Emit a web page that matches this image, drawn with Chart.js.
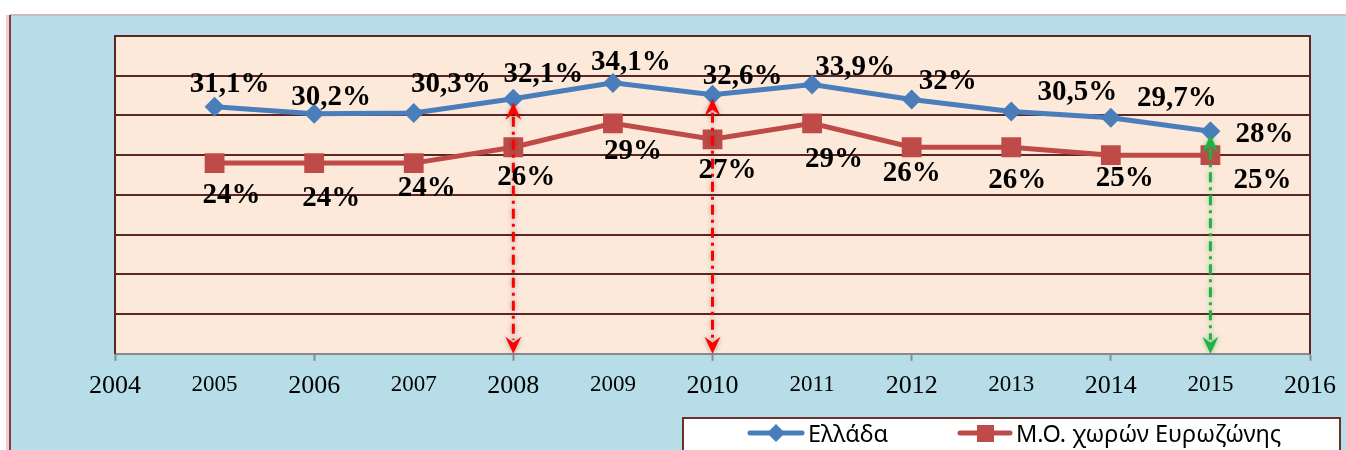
<!DOCTYPE html>
<html>
<head>
<meta charset="utf-8">
<script src="https://cdn.jsdelivr.net/npm/chart.js@4.4.1/dist/chart.umd.min.js"></script>
<style>
  html,body{margin:0;padding:0;background:#fff;}
  canvas{display:block;}
</style>
</head>
<body>
<canvas id="chart" width="1346" height="450"></canvas>
<script>
const YEARS = [2005,2006,2007,2008,2009,2010,2011,2012,2013,2014,2015];
const GREECE = [31.1,30.2,30.3,32.1,34.1,32.6,33.9,32,30.5,29.7,28];
const EUROZONE = [24,24,24,26,29,27,29,26,26,25,25];
const SERIES_NAMES = ['Ελλάδα','Μ.Ο. χωρών Ευρωζώνης'];
const ARROWS_RED = [2008,2010];
const ARROWS_GREEN = [2015];

// where each value label sits relative to its point (px)
const GREECE_LABEL_SHIFT = [[15,-22],[17,-16],[37,-29],[30,-24],[18,-20],[30,-18],[43,-17],[36,-18],[66,-19],[66,-19],[54,3]];
const EURO_LABEL_SHIFT = [[17,32],[17,35],[13,25],[13,30],[20,28],[15,31],[22,36],[0,26],[6,33],[14,23],[52,25]];

const SERIF = "'Liberation Serif','Times New Roman',serif";
const BLUE = '#4a7ebb', RED = '#be4b48';

const fmt = v => String(v).replace('.', ',') + '%';

const backdrop = {
  id:'backdrop',
  beforeDraw(chart){
    const {ctx, chartArea:a, width, height} = chart;
    ctx.save();
    ctx.fillStyle = '#fff'; ctx.fillRect(0,0,width,height);
    ctx.fillStyle = '#b7dde8'; ctx.fillRect(10,15,width-10,height-15);
    ctx.fillStyle = '#cbbcc4'; ctx.fillRect(10,14,width-10,2);
    ctx.fillStyle = 'rgba(190,120,120,0.35)'; ctx.fillRect(6,15,4,height-15);
    ctx.fillStyle = '#8c3b38'; ctx.fillRect(9,15,2,height-15);
    ctx.fillStyle = '#fde9da';
    ctx.fillRect(a.left,a.top,a.right-a.left,a.bottom-a.top);
    ctx.restore();
  },
  afterDraw(chart){
    const {ctx, chartArea:a} = chart;
    ctx.save();
    ctx.strokeStyle = '#5b2623'; ctx.lineWidth = 2;
    ctx.beginPath();
    ctx.moveTo(a.left, a.bottom); ctx.lineTo(a.left, a.top);
    ctx.lineTo(a.right, a.top); ctx.lineTo(a.right, a.bottom);
    ctx.stroke();

    // legend box
    ctx.fillStyle = '#fff'; ctx.fillRect(683,418,657,40);
    ctx.strokeStyle = '#6b2f2c'; ctx.lineWidth = 2; ctx.strokeRect(683,418,657,40);
    const ly = 433;
    ctx.lineWidth = 5; ctx.lineCap = 'round';
    ctx.strokeStyle = BLUE;
    ctx.beginPath(); ctx.moveTo(750,ly); ctx.lineTo(802,ly); ctx.stroke();
    ctx.fillStyle = BLUE;
    ctx.beginPath(); ctx.moveTo(776,ly-9); ctx.lineTo(785,ly); ctx.lineTo(776,ly+9); ctx.lineTo(767,ly); ctx.closePath(); ctx.fill();
    ctx.strokeStyle = RED;
    ctx.beginPath(); ctx.moveTo(960,ly); ctx.lineTo(1010,ly); ctx.stroke();
    ctx.fillStyle = RED; ctx.fillRect(977,ly-8,17,17);
    ctx.fillStyle = '#000'; ctx.font = "23.5px 'Noto Sans', sans-serif";
    ctx.textBaseline = 'alphabetic'; ctx.textAlign = 'left';
    ctx.fillText(SERIES_NAMES[0], 808, ly+9);
    ctx.fillText(SERIES_NAMES[1], 1016, ly+9);
    ctx.restore();
  }
};

function head(ctx, x, tipY, dir){
  ctx.beginPath();
  ctx.moveTo(x, tipY);
  ctx.lineTo(x-8, tipY - dir*17);
  ctx.lineTo(x, tipY - dir*11);
  ctx.lineTo(x+8, tipY - dir*17);
  ctx.closePath(); ctx.fill();
}

function arrow(chart, year, color, glow){
  const {ctx} = chart;
  const xs = chart.scales.x, ys = chart.scales.y;
  const x = xs.getPixelForValue(year);
  const top = ys.getPixelForValue(GREECE[YEARS.indexOf(year)]) + 4;
  const bottom = ys.getPixelForValue(0);
  ctx.save();
  ctx.shadowColor = glow; ctx.shadowBlur = 5;
  ctx.strokeStyle = color; ctx.fillStyle = color; ctx.lineWidth = 3;
  ctx.setLineDash([10,5,3,5]);
  ctx.beginPath(); ctx.moveTo(x, top+14); ctx.lineTo(x, bottom-14); ctx.stroke();
  ctx.setLineDash([]);
  head(ctx, x, top, -1);
  head(ctx, x, bottom, 1);
  ctx.restore();
}

const annotations = {
  id:'annotations',
  afterDatasetsDraw(chart){
    ARROWS_RED.forEach(y=>arrow(chart, y, '#f00', 'rgba(0,0,0,0.35)'));
    ARROWS_GREEN.forEach(y=>arrow(chart, y, '#1fb24a', 'rgba(30,180,70,0.6)'));

    const {ctx} = chart;
    ctx.save();
    ctx.fillStyle = '#000';
    ctx.font = "bold 29px " + SERIF;
    ctx.textAlign = 'center'; ctx.textBaseline = 'middle';
    [[GREECE, GREECE_LABEL_SHIFT],[EUROZONE, EURO_LABEL_SHIFT]].forEach(([vals, shift], di)=>{
      chart.getDatasetMeta(di).data.forEach((pt,i)=>{
        ctx.fillText(fmt(vals[i]), pt.x + shift[i][0], pt.y + shift[i][1]);
      });
    });
    ctx.restore();
  }
};

new Chart(document.getElementById('chart'), {
  type:'line',
  data:{
    datasets:[
      {label:SERIES_NAMES[0], data:YEARS.map((y,i)=>({x:y, y:GREECE[i]})),
       borderColor:BLUE, backgroundColor:BLUE, borderWidth:5,
       pointStyle:'rectRot', pointRadius:10, pointBorderWidth:0, tension:0},
      {label:SERIES_NAMES[1], data:YEARS.map((y,i)=>({x:y, y:EUROZONE[i]})),
       borderColor:RED, backgroundColor:RED, borderWidth:5,
       pointStyle:'rect', pointRadius:14, pointBorderWidth:0, tension:0}
    ]
  },
  options:{
    responsive:false,
    animation:false,
    layout:{padding:{left:115, top:36, right:33, bottom:38}},
    scales:{
      x:{
        type:'linear', min:2004, max:2016,
        ticks:{
          stepSize:1, autoSkip:false, maxRotation:0, padding:10, color:'#000',
          font: c => ({family:SERIF, size: c.tick && c.tick.value % 2 === 0 ? 26 : 23}),
          callback: v => String(v)
        },
        grid:{drawOnChartArea:false, tickLength:7, tickWidth:2,
              tickColor: c => c.tick && c.tick.value % 2 === 0 ? '#8a8a8a' : 'rgba(0,0,0,0)'},
        border:{color:'#8a8a8a', width:2}
      },
      y:{
        min:0, max:40,
        ticks:{stepSize:5, display:false},
        grid:{drawTicks:false, lineWidth:2,
              color: c => c.tick && c.tick.value === 0 ? 'rgba(0,0,0,0)' : '#5b2623'},
        border:{display:false}
      }
    },
    plugins:{legend:{display:false}, tooltip:{enabled:false}}
  },
  plugins:[backdrop, annotations]
});
</script>
</body>
</html>
